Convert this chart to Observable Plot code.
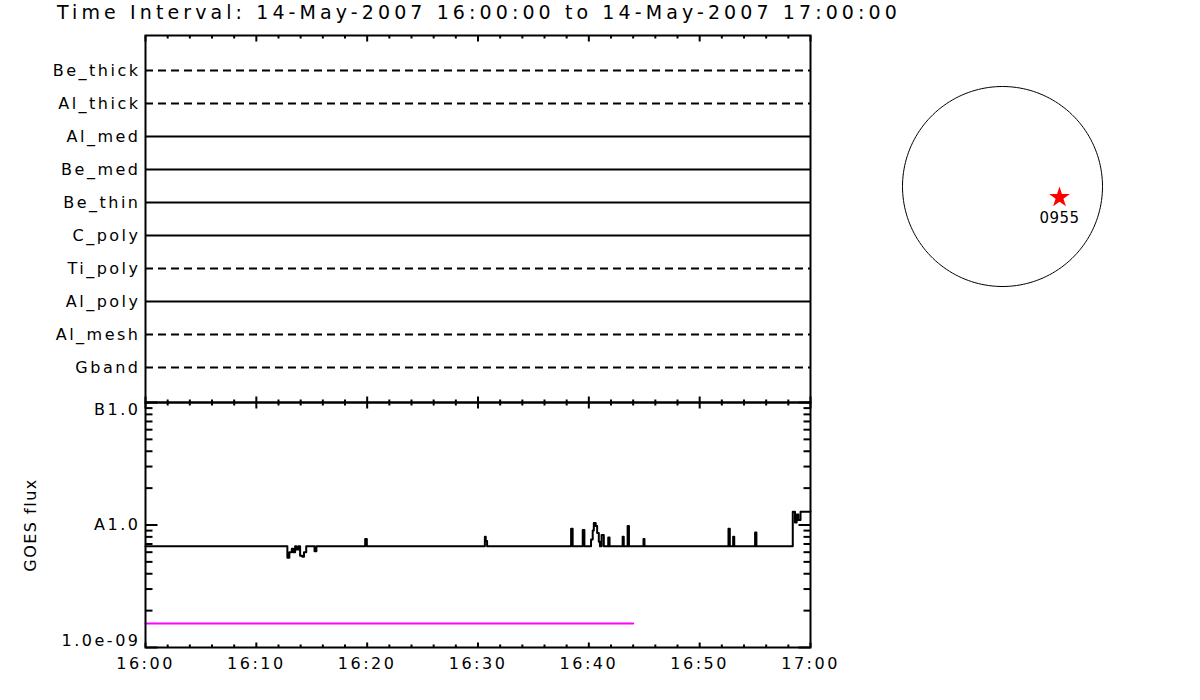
<!DOCTYPE html>
<html><head><meta charset="utf-8">
<script src="https://cdn.jsdelivr.net/npm/d3@7"></script>
<script src="https://cdn.jsdelivr.net/npm/@observablehq/plot@0.6"></script>
<style>
body{margin:0;background:#fff;}
#wrap{position:relative;width:1200px;height:700px;overflow:hidden;font-family:"DejaVu Sans",sans-serif;background:#fff;}
#wrap > *{position:absolute;}
#title{left:57px;top:1px;font-size:19px;letter-spacing:4.1px;white-space:nowrap;color:#000;line-height:22px;}
</style></head><body>
<div id="wrap"><div id="title"></div></div>
<script>
const titleText = "Time Interval: 14-May-2007 16:00:00 to 14-May-2007 17:00:00";

// filter rows (top to bottom) and whether data exist (solid) or not (dashed)
const filterNames = ["Be_thick","Al_thick","Al_med","Be_med","Be_thin","C_poly","Ti_poly","Al_poly","Al_mesh","Gband"];
const filterObserved = [false,false,true,true,true,true,false,true,false,false];

// time axis (minutes after 16:00)
const xMajorTicks = [0,10,20,30,40,50,60];
const xTickLabels = ["16:00","16:10","16:20","16:30","16:40","16:50","17:00"];
const xMinorTicks = [2,4,6,8,12,14,16,18,22,24,26,28,32,34,36,38,42,44,46,48,52,54,56,58];

// GOES flux axis
const yMajorTicks = [1e-9,1e-8,1e-7];
const yTickLabels = ["1.0e-09","A1.0","B1.0"];
const yMinorTicks = [2e-9,3e-9,4e-9,5e-9,6e-9,7e-9,8e-9,9e-9,2e-8,3e-8,4e-8,5e-8,6e-8,7e-8,8e-8,9e-8];

// GOES light curve (value holds until the next sample)
const goesMinutes = [
  0, 12.80, 12.98, 13.20, 13.35, 13.50, 13.62, 13.80, 13.95, 14.15,
  14.30, 14.50, 15.25, 15.42, 19.82, 19.97, 30.62, 30.70, 30.82, 38.40,
  38.54, 39.45, 39.60, 40.20, 40.35, 40.45, 40.62, 40.75, 40.90, 41.00,
  41.15, 41.35, 41.75, 41.87, 43.05, 43.15, 43.50, 43.62, 44.93, 45.02,
  52.60, 52.72, 53.02, 53.12, 55.00, 55.12, 58.40, 58.60, 58.75, 58.90,
  59.10, 60
];
const goesFlux = [
  6.7e-9, 5.4e-9, 6.0e-9, 6.4e-9, 6.0e-9, 6.7e-9, 6.3e-9, 6.7e-9, 5.6e-9, 5.5e-9,
  6.0e-9, 6.7e-9, 6.1e-9, 6.7e-9, 7.7e-9, 6.7e-9, 8.0e-9, 7.4e-9, 6.7e-9, 9.3e-9,
  6.7e-9, 9.1e-9, 6.7e-9, 7.6e-9, 9.0e-9, 1.04e-8, 9.8e-9, 8.6e-9, 7.3e-9, 6.7e-9,
  8.3e-9, 6.7e-9, 7.9e-9, 6.7e-9, 8.0e-9, 6.7e-9, 9.8e-9, 6.7e-9, 7.7e-9, 6.7e-9,
  9.3e-9, 6.7e-9, 8.0e-9, 6.7e-9, 8.7e-9, 6.7e-9, 1.28e-8, 1.05e-8, 1.22e-8, 1.10e-8,
  1.28e-8, 1.28e-8
];
// magenta reference level
const refMinutes = [0, 44.0];
const refFlux = [1.57e-9, 1.57e-9];

// active region on the solar disk
const regionLabels = ["0955"];
const regionLon = [35.0];
const regionLat = [-6.3];

// ---------------------------------------------------------------------------
const wrap = document.getElementById("wrap");
document.getElementById("title").textContent = titleText;

const tickShape = {draw(ctx, l) { ctx.moveTo(0, 0); ctx.lineTo(0, -l); }};
const baseStyle = {background: "transparent", fontFamily: "DejaVu Sans", fontSize: "16px", letterSpacing: "2.5px", color: "#000", overflow: "visible"};
function edgeTicks(values, channel, frameAnchor, rotate, length) {
  return Plot.vector(values, {[channel]: d => d, frameAnchor, rotate, length, anchor: "start",
    shape: tickShape, stroke: "#000", strokeWidth: 2, strokeLinecap: "butt"});
}

// upper panel: filters
const filterRows = filterNames.map((name, i) => ({name, observed: filterObserved[i]}));
const upper = Plot.plot({
  width: 820, height: 410,
  marginLeft: 145, marginRight: 10, marginTop: 35, marginBottom: 8,
  style: baseStyle,
  x: {domain: [0, 60], axis: null},
  y: {type: "point", domain: filterNames, padding: 1, axis: null},
  marks: [
    Plot.ruleY(filterRows.filter(d => d.observed), {y: "name", stroke: "#000", strokeWidth: 2}),
    Plot.ruleY(filterRows.filter(d => !d.observed), {y: "name", stroke: "#000", strokeWidth: 2, strokeDasharray: "8,5"}),
    Plot.axisY({tickSize: 0, tickPadding: 5, fontSize: 16, label: null}),
    edgeTicks(xMinorTicks, "x", "top", 180, 3),
    edgeTicks(xMajorTicks, "x", "top", 180, 6),
    edgeTicks(xMinorTicks, "x", "bottom", 0, 3),
    edgeTicks(xMajorTicks, "x", "bottom", 0, 6),
    Plot.frame({stroke: "#000", strokeWidth: 2})
  ]
});
upper.style.left = "0px"; upper.style.top = "0px";
wrap.appendChild(upper);

// lower panel: GOES flux
const goes = goesMinutes.map((t, i) => ({t, f: goesFlux[i]}));
const ref = refMinutes.map((t, i) => ({t, f: refFlux[i]}));
const yLab = v => yTickLabels[yMajorTicks.indexOf(v)];
const lower = Plot.plot({
  width: 820, height: 305,
  marginLeft: 145, marginRight: 10, marginTop: 7, marginBottom: 53,
  style: baseStyle,
  x: {domain: [0, 60], axis: null},
  y: {type: "log", domain: [1e-9, 1e-7], axis: null},
  marks: [
    Plot.line(ref, {x: "t", y: "f", stroke: "#ff00ff", strokeWidth: 2}),
    Plot.line(goes, {x: "t", y: "f", stroke: "#000", strokeWidth: 2, curve: "step-after"}),
    Plot.axisX({ticks: xMajorTicks, tickFormat: d => xTickLabels[xMajorTicks.indexOf(d)], tickSize: 0, tickPadding: 10, fontSize: 16, label: null}),
    Plot.text([yMajorTicks[0]], {y: d => d, text: yLab, frameAnchor: "left", textAnchor: "end", dx: -5, dy: -7, fontSize: 16}),
    Plot.text([yMajorTicks[1]], {y: d => d, text: yLab, frameAnchor: "left", textAnchor: "end", dx: -5, fontSize: 16}),
    Plot.text([yMajorTicks[2]], {y: d => d, text: yLab, frameAnchor: "left", textAnchor: "end", dx: -5, dy: 7, fontSize: 16}),
    Plot.text(["GOES flux"], {text: d => d, frameAnchor: "left", textAnchor: "middle", dx: -115, rotate: -90, fontSize: 16}),
    edgeTicks(xMinorTicks, "x", "top", 180, 3),
    edgeTicks(xMajorTicks, "x", "top", 180, 6),
    edgeTicks(xMinorTicks, "x", "bottom", 0, 3),
    edgeTicks(xMajorTicks, "x", "bottom", 0, 5),
    edgeTicks(yMinorTicks, "y", "left", 90, 7),
    edgeTicks(yMajorTicks, "y", "left", 90, 12),
    edgeTicks(yMinorTicks, "y", "right", 270, 7),
    edgeTicks(yMajorTicks, "y", "right", 270, 12),
    Plot.frame({stroke: "#000", strokeWidth: 2})
  ]
});
lower.style.left = "0px"; lower.style.top = "395px";
lower.querySelectorAll("text").forEach(t => { if (t.textContent === "GOES flux") t.style.letterSpacing = "1.5px"; });
wrap.appendChild(lower);

// solar disk with active region
const regions = regionLabels.map((name, i) => ({name, lon: regionLon[i], lat: regionLat[i]}));
const disk = Plot.plot({
  width: 204, height: 204,
  margin: 0,
  style: {background: "transparent", fontFamily: "DejaVu Sans", overflow: "visible", color: "#000", letterSpacing: "0.5px"},
  projection: {type: "orthographic", inset: 2},
  marks: [
    Plot.sphere({stroke: "#000", strokeWidth: 1}),
    Plot.dot(regions, {x: "lon", y: "lat", symbol: "star", r: 6.5, fill: "#ff0000", stroke: "none"}),
    Plot.text(regions, {x: "lon", y: "lat", text: "name", dy: 21, fontSize: 15, fill: "#000"})
  ]
});
disk.style.left = "900px"; disk.style.top = "84px";
wrap.appendChild(disk);
</script>
</body></html>
